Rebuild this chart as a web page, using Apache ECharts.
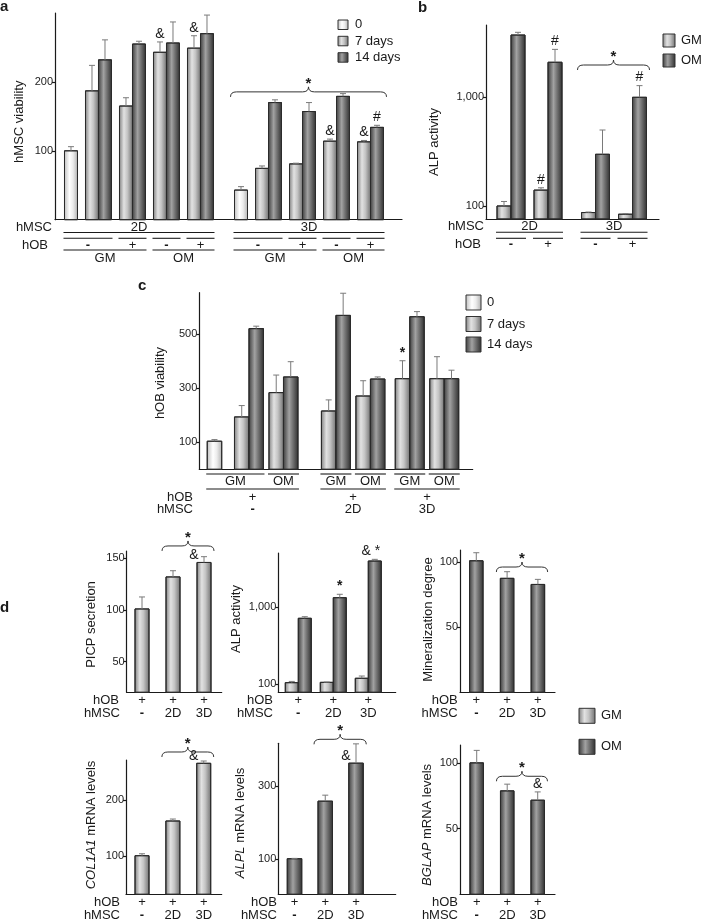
<!DOCTYPE html>
<html><head><meta charset="utf-8">
<script src="https://cdn.jsdelivr.net/npm/echarts@6/dist/echarts.min.js"></script>
<style>html,body{margin:0;padding:0;background:#fff}#chart{width:701px;height:920px}</style>
</head><body><div id="chart"></div>
<script>
// ================= DATA =================
// Panel a: hMSC viability (categories: culture / medium / hOB)
const aCategories = ['2D 0','2D GM -','2D GM +','2D OM -','2D OM +','3D 0','3D GM -','3D GM +','3D OM -','3D OM +'];
const aDay0      = [100, null, null, null, null, 43, null, null, null, null];
const aDay0Err   = [106, null, null, null, null, 48, null, null, null, null];
const aDay7      = [null, 187, 165, 243, 249, null, 74.5, 81, 114, 113];
const aDay7Err   = [null, 224, 177, 258, 267, null, 78, 82, 117, 115];
const aDay14     = [null, 232, 255, 256.5, 270, null, 170, 157, 179, 134];
const aDay14Err  = [null, 261, 259, 287, 297, null, 174, 170, 183, 137];
const aDay7Marks = ['', '', '', '&', '&', '', '', '', '&', '&'];
const aDay14Marks= ['', '', '', '', '', '', '', '', '', '#'];
const aTicks = [100, 200];
const aRowHMSC = [['2D',0,4],['3D',5,9]];
const aRowHOB = [['-',0,1],['+',2,2],['-',3,3],['+',4,4],['-',5,6],['+',7,7],['-',8,8],['+',9,9]];
const aRowMedium = [['GM',0,2],['OM',3,4],['GM',5,7],['OM',8,9]];
const aLegend = ['0','7 days','14 days'];

// Panel b: ALP activity (log)
const bCategories = ['2D -','2D +','3D -','3D +'];
const bGM     = [100, 140, 87, 84];
const bGMErr  = [110, 147, 88, 85];
const bOM     = [3740, 2100, 299, 1000];
const bOMErr  = [3960, 2760, 500, 1280];
const bGMMarks = ['', '#', '', ''];
const bOMMarks = ['', '#', '', '#'];
const bTicks = [100, 1000];
const bRowHMSC = [['2D',0,1],['3D',2,3]];
const bRowHOB = [['-',0,0],['+',1,1],['-',2,2],['+',3,3]];
const bLegend = ['GM','OM'];

// Panel c: hOB viability
const cCategories = ['- 0','- GM','- OM','2D GM','2D OM','3D GM','3D OM'];
const cDay0     = [104, null, null, null, null, null, null];
const cDay0Err  = [110, null, null, null, null, null, null];
const cDay7     = [null, 194, 284, 216, 271.5, 335.6, 335.6];
const cDay7Err  = [null, 236, 349, 257, 328, 402, 417];
const cDay14    = [null, 521, 342, 570, 334.4, 565, 335.6];
const cDay14Err = [null, 530, 398.5, 652, 342, 584, 367];
const cDay7Marks = ['', '', '', '', '', '*', ''];
const cTicks = [100, 300, 500];
const cRowMedium = [['GM',0,1],['OM',2,2],['GM',3,3],['OM',4,4],['GM',5,5],['OM',6,6]];
const cRowHOB = [['+',0,2],['+',3,4],['+',5,6]];
const cRowHMSC = [['-',0,2],['2D',3,4],['3D',5,6]];

// Panel d
const dCategories = ['hOB alone','hOB + 2D hMSC','hOB + 3D hMSC'];
const dRowHOB = [['+',0,0],['+',1,1],['+',2,2]];
const dRowHMSC = [['-',0,0],['2D',1,1],['3D',2,2]];
const picp = [101, 132, 146];
const picpErr = [112.6, 138, 151.6];
const picpMarks = ['', '', '&'];
const picpTicks = [50, 100, 150];
const alpGM = [104, 105, 118.7];
const alpGMErr = [108, 106, 127];
const alpOM = [719, 1334, 4012];
const alpOMErr = [754, 1478, 4220];
const alpOMMarks = ['', '*', '& *'];
const alpTicks = [100, 1000];
const mineral = [101.2, 87.7, 83];
const mineralErr = [107.4, 92.8, 86.9];
const mineralTicks = [50, 100];
const col1a1 = [100.5, 162.5, 265.5];
const col1a1Err = [104, 166, 269.6];
const col1a1Marks = ['', '', '&'];
const col1a1Ticks = [100, 200];
const alpl = [101.6, 258.6, 362.3];
const alplErr = [102.5, 275, 415];
const alplMarks = ['', '', '&'];
const alplTicks = [100, 300];
const bglap = [100, 78.7, 71.6];
const bglapErr = [109.5, 83.8, 77.9];
const bglapMarks = ['', '', '&'];
const bglapTicks = [50, 100];
const dLegend = ['GM','OM'];

// ================= STYLE =================
const FONT = '"Liberation Sans", Arial, Helvetica, sans-serif';
const INK = '#1a1a1a';
const STY = {
  zero:  [[0,'#bdbdbd'],[0.4,'#ffffff'],[0.65,'#ececec'],[1,'#b0b0b0']],
  light: [[0,'#7d7d7d'],[0.35,'#e2e2e2'],[0.6,'#c4c4c4'],[1,'#6f6f6f']],
  dark:  [[0,'#3a3a3a'],[0.4,'#a2a2a2'],[0.6,'#7a7a7a'],[1,'#2e2e2e']]
};
function grad(key){ return new echarts.graphic.LinearGradient(0,0,1,0, STY[key].map(([o,c])=>({offset:o,color:c}))); }

const dRows = [{items:dRowHOB, textDy:8}, {items:dRowHMSC, textDy:20.7}];
const dRows2 = [{items:dRowHOB, textDy:8.4}, {items:dRowHMSC, textDy:20.7}];

const charts = [
 { grid:{left:55, top:13, width:347, height:206.7}, x:[-0.279, 9.926],
   y:{type:'value', min:0, max:300, ticks:aTicks}, barW:13,
   series:[{name:aLegend[0], data:aDay0, err:aDay0Err, style:'zero', shift:0.5},
           {name:aLegend[1], data:aDay7, err:aDay7Err, marks:aDay7Marks, style:'light', shift:-0.5},
           {name:aLegend[2], data:aDay14, err:aDay14Err, marks:aDay14Marks, style:'dark', shift:0.5}],
   rows:[{items:aRowHMSC, textDy:7.5, lines:[12.8]},{items:aRowHOB, lines:[18.6], textDy:25.3},{items:aRowMedium, lines:[30.3], textDy:38.3}],
   rowLabels:[['hMSC',7.5,52],['hOB',25.3,48]],
   brace:{from:5,to:9,level:185.5},
   title:{text:'hMSC viability', x:19, y:121.7},
   legend:{x:338, w:10, h:9.5, ys:[20,36.3,52.7], textX:355, names:aLegend, styles:['zero','light','dark']},
   letter:{t:'a', x:0, y:7} },
 { grid:{left:486, top:25, width:173, height:194}, x:[-0.676, 4.0], groupOffsets:[0,0,0.284,0.284],
   y:{type:'log', min:75.9, max:4624, ticks:bTicks}, barW:14,
   series:[{name:bLegend[0], data:bGM, err:bGMErr, marks:bGMMarks, style:'light', shift:-0.5},
           {name:bLegend[1], data:bOM, err:bOMErr, marks:bOMMarks, style:'dark', shift:0.5}],
   rows:[{items:bRowHMSC, textDy:7.7, lines:[13.3]},{items:bRowHOB, lines:[19.3], textDy:25.3}],
   rowLabels:[['hMSC',7.7,484],['hOB',25.3,481]],
   brace:{from:2,to:3,level:1981},
   title:{text:'ALP activity', x:434, y:142},
   legend:{x:663, w:12, h:13, ys:[34,54], textX:681, names:bLegend, styles:['light','dark']},
   letter:{t:'b', x:418, y:8} },
 { grid:{left:199.3, top:292.7, width:273.4, height:176.6}, x:[-0.44, 7.485], groupOffsets:[0,0,0,0.52,0.52,0.66,0.66],
   y:{type:'value', min:0, max:654, ticks:cTicks}, barW:14.5,
   series:[{name:aLegend[0], data:cDay0, err:cDay0Err, style:'zero', shift:0},
           {name:aLegend[1], data:cDay7, err:cDay7Err, marks:cDay7Marks, style:'light', shift:-0.5},
           {name:aLegend[2], data:cDay14, err:cDay14Err, style:'dark', shift:0.5}],
   rows:[{items:cRowMedium, lines:[4.7], textDy:11.7},{items:cRowHOB, lines:[19.7], textDy:27.7},{items:cRowHMSC, textDy:39.7}],
   rowLabels:[['hOB',27.7,193],['hMSC',39.7,193]],
   title:{text:'hOB viability', x:160, y:383},
   legend:{x:466, w:15, h:15, ys:[295,316.5,337], textX:487, names:aLegend, styles:['zero','light','dark']},
   letter:{t:'c', x:138, y:286} },
 { grid:{left:126.7, top:551, width:95, height:141.3}, x:[-0.494, 2.571],
   y:{type:'value', min:20.3, max:157.1, ticks:picpTicks}, barW:14, ampLeft:true,
   series:[{name:'PICP secretion', data:picp, err:picpErr, marks:picpMarks, style:'light', shift:0}],
   rows:dRows, rowLabels:[['hOB',8,119],['hMSC',20.7,120]],
   brace:{from:1,to:2,level:162},
   title:{text:'PICP secretion', x:91, y:624.5},
   letter:{t:'d', x:0, y:608} },
 { grid:{left:278.3, top:553, width:117.4, height:139.3}, x:[-0.571, 2.783],
   y:{type:'log', min:77.9, max:5105, ticks:alpTicks}, barW:13,
   series:[{name:dLegend[0], data:alpGM, err:alpGMErr, style:'light', shift:-0.5},
           {name:dLegend[1], data:alpOM, err:alpOMErr, marks:alpOMMarks, style:'dark', shift:0.5}],
   rows:dRows, rowLabels:[['hOB',8,273],['hMSC',20.7,273]],
   title:{text:'ALP activity', x:236, y:619} },
 { grid:{left:460, top:550, width:95, height:142.3}, x:[-0.529, 2.555],
   y:{type:'value', min:0, max:109.5, ticks:mineralTicks}, barW:13.5,
   series:[{name:'Mineralization degree', data:mineral, err:mineralErr, style:'dark', shift:0}],
   rows:dRows, rowLabels:[['hOB',8,457.7],['hMSC',20.7,457.7]],
   brace:{from:1,to:2,level:96.4},
   title:{text:'Mineralization degree', x:428, y:619.5} },
 { grid:{left:126, top:760, width:95.7, height:134.3}, x:[-0.519, 2.583],
   y:{type:'value', min:31.6, max:271.4, ticks:col1a1Ticks}, barW:14, ampLeft:true,
   series:[{name:'COL1A1', data:col1a1, err:col1a1Err, marks:col1a1Marks, style:'light', shift:0}],
   rows:dRows2, rowLabels:[['hOB',8.4,120],['hMSC',20.7,120]],
   brace:{from:1,to:2,level:285.7},
   title:{text:'{i|COL1A1} mRNA levels', x:91, y:825} },
 { grid:{left:278.3, top:743.3, width:117.4, height:151}, x:[-0.527, 3.291],
   y:{type:'value', min:4.5, max:416.5, ticks:alplTicks}, barW:14.5, ampLeft:true,
   series:[{name:'ALPL', data:alpl, err:alplErr, marks:alplMarks, style:'dark', shift:0}],
   rows:dRows2, rowLabels:[['hOB',8.4,277],['hMSC',20.7,277]],
   brace:{from:1,to:2,level:427.4},
   title:{text:'{i|ALPL} mRNA levels', x:240, y:823} },
 { grid:{left:460, top:745, width:95, height:149.3}, x:[-0.548, 2.567],
   y:{type:'value', min:0, max:113.6, ticks:bglapTicks}, barW:13.5,
   series:[{name:'BGLAP', data:bglap, err:bglapErr, marks:bglapMarks, style:'dark', shift:0}],
   rows:dRows2, rowLabels:[['hOB',8.4,458],['hMSC',20.7,458]],
   brace:{from:1,to:2,level:89.8},
   title:{text:'{i|BGLAP} mRNA levels', x:427, y:825},
   legend:{x:579, w:16, h:15, ys:[708.3,739.3], textX:601, names:dLegend, styles:['light','dark']} }
];

function xPos(c, i){ return i + (c.groupOffsets ? c.groupOffsets[i] : 0); }
function fmt(v){ v = Math.round(v); return v >= 1000 ? v.toLocaleString('en-US') : String(v); }

function buildData(c, s){
  const out = [];
  s.data.forEach((v, i) => { if (v != null) out.push([xPos(c, i), v, s.err[i], i]); });
  return out;
}

function makeRenderer(c, s){
  return function(params, api){
    const xv = api.value(0), v = api.value(1), e = api.value(2), idx = api.value(3);
    const p = api.coord([xv, v]);
    const w = c.barW;
    const cx = p[0] + s.shift * w;
    const top = p[1];
    const cs = params.coordSys;
    const base = cs.y + cs.height;
    const eTop = api.coord([xv, e])[1];
    const ch = [
      {type:'rect', shape:{x:cx - w/2, y:top, width:w, height:base - top}, style:{fill:grad(s.style), stroke:'#2b2b2b', lineWidth:1}},
      {type:'line', shape:{x1:cx, y1:top, x2:cx, y2:eTop}, style:{stroke:'#7a7a7a', lineWidth:1}},
      {type:'line', shape:{x1:cx - 3, y1:eTop, x2:cx + 3, y2:eTop}, style:{stroke:'#7a7a7a', lineWidth:1}}
    ];
    const m = s.marks ? s.marks[idx] : '';
    if (m) {
      const bold = m === '*';
      if (m === '&' && c.ampLeft) {
        ch.push({type:'text', style:{text:m, x:cx - 10, y:top - 7, align:'center', verticalAlign:'middle', fill:INK, fontSize:14, fontFamily:FONT}});
      } else {
        ch.push({type:'text', style:{text:m, x:cx + (m.length > 1 ? -4 : 0), y:eTop - 1, align:'center', verticalAlign:'bottom', fill:INK, fontSize:14, fontWeight: bold ? 'bold' : 'normal', fontFamily:FONT}});
      }
    }
    return {type:'group', children:ch};
  };
}

const ec = echarts.init(document.getElementById('chart'), null, {renderer:'canvas'});
const option = {animation:false, grid:[], xAxis:[], yAxis:[], series:[]};
charts.forEach((c, gi) => {
  option.grid.push(Object.assign({containLabel:false}, c.grid));
  option.xAxis.push({type:'value', gridIndex:gi, min:c.x[0], max:c.x[1],
    axisLine:{show:true, onZero:false, lineStyle:{color:INK, width:1.2}},
    axisTick:{show:false}, axisLabel:{show:false}, splitLine:{show:false}});
  option.yAxis.push({type:c.y.type, logBase:10, gridIndex:gi, min:c.y.min, max:c.y.max,
    axisLine:{show:true, onZero:false, lineStyle:{color:INK, width:1.2}},
    axisTick:{show:true, length:3, customValues:c.y.ticks, lineStyle:{color:INK, width:1.2}},
    axisLabel:{customValues:c.y.ticks, fontSize:11, color:'#222', margin:2, fontFamily:FONT, formatter:fmt},
    splitLine:{show:false}, minorTick:{show:false}});
  c.series.forEach(s => option.series.push({type:'custom', name:s.name, xAxisIndex:gi, yAxisIndex:gi,
    encode:{x:0, y:1}, data:buildData(c, s), renderItem:makeRenderer(c, s), clip:false, silent:true}));
});
ec.setOption(option);

// ---------- annotations (category rows, braces, titles, legends) ----------
const G = [];
function txt(t, x, y, align, extra){
  return {type:'text', x:x, y:y, silent:true, style:Object.assign({text:t, fill:INK, fontSize:13, fontFamily:FONT,
    align:align, verticalAlign:'middle', textAlign:align, textVerticalAlign:'middle'}, extra || {})};
}
function ln(x1, y1, x2, y2){ return {type:'line', silent:true, shape:{x1, y1, x2, y2}, style:{stroke:INK, lineWidth:1.1}}; }

charts.forEach((c, gi) => {
  const P = (x, y) => ec.convertToPixel({gridIndex:gi}, [x, y]);
  const base = c.grid.top + c.grid.height;
  const ext = (i) => {
    let lo = Infinity, hi = -Infinity;
    const cxb = P(xPos(c, i), c.y.max)[0];
    c.series.forEach(s => { if (s.data[i] != null) { const cx = cxb + s.shift * c.barW; lo = Math.min(lo, cx - c.barW/2); hi = Math.max(hi, cx + c.barW/2); } });
    return [lo, hi];
  };
  c.rows.forEach(r => {
    r.items.forEach(([t, a, b]) => {
      const x1 = ext(a)[0] - 1, x2 = ext(b)[1] + 1, mid = (x1 + x2) / 2;
      (r.lines || []).forEach(dy => G.push(ln(x1, base + dy, x2, base + dy)));
      if (r.textDy != null) G.push(txt(t, mid, base + r.textDy, 'center', t === '-' ? {fontWeight:'bold'} : null));
    });
  });
  c.rowLabels.forEach(([t, dy, right]) => G.push(txt(t, right, base + dy, 'right')));
  if (c.brace) {
    const b = c.brace;
    const x1 = ext(b.from)[0] - 4, x2 = ext(b.to)[1] + 3, m = (x1 + x2) / 2;
    const y = P(xPos(c, b.from), b.level)[1];
    const h = 5, r = 6;
    const st = {stroke:'#333', lineWidth:1, fill:null};
    G.push({type:'bezierCurve', silent:true, shape:{x1:x1, y1:y + h, cpx1:x1, cpy1:y, x2:x1 + r, y2:y}, style:st});
    G.push({type:'line', silent:true, shape:{x1:x1 + r, y1:y, x2:m - r, y2:y}, style:st});
    G.push({type:'bezierCurve', silent:true, shape:{x1:m - r, y1:y, cpx1:m, cpy1:y, x2:m, y2:y - h}, style:st});
    G.push({type:'bezierCurve', silent:true, shape:{x1:m, y1:y - h, cpx1:m, cpy1:y, x2:m + r, y2:y}, style:st});
    G.push({type:'line', silent:true, shape:{x1:m + r, y1:y, x2:x2 - r, y2:y}, style:st});
    G.push({type:'bezierCurve', silent:true, shape:{x1:x2 - r, y1:y, cpx1:x2, cpy1:y, x2:x2, y2:y + h}, style:st});
    G.push(txt('*', m, y - 8, 'center', {fontSize:15, fontWeight:'bold'}));
  }
  if (c.title) {
    const t = txt(c.title.text, c.title.x, c.title.y, 'center', {rich:{i:{fontStyle:'italic', fontSize:13, fontFamily:FONT, fill:INK}}});
    t.rotation = Math.PI / 2;
    G.push(t);
  }
  if (c.legend) {
    const L = c.legend;
    L.names.forEach((nm, k) => {
      G.push({type:'rect', silent:true, shape:{x:L.x, y:L.ys[k], width:L.w, height:L.h}, style:{fill:grad(L.styles[k]), stroke:'#333', lineWidth:1}});
      G.push(txt(nm, L.textX, L.ys[k] + L.h / 2, 'left'));
    });
  }
  if (c.letter) G.push(txt(c.letter.t, c.letter.x, c.letter.y, 'left', {fontSize:15, fontWeight:'bold'}));
});
ec.setOption({graphic:{elements:G}});
</script>
</body></html>
